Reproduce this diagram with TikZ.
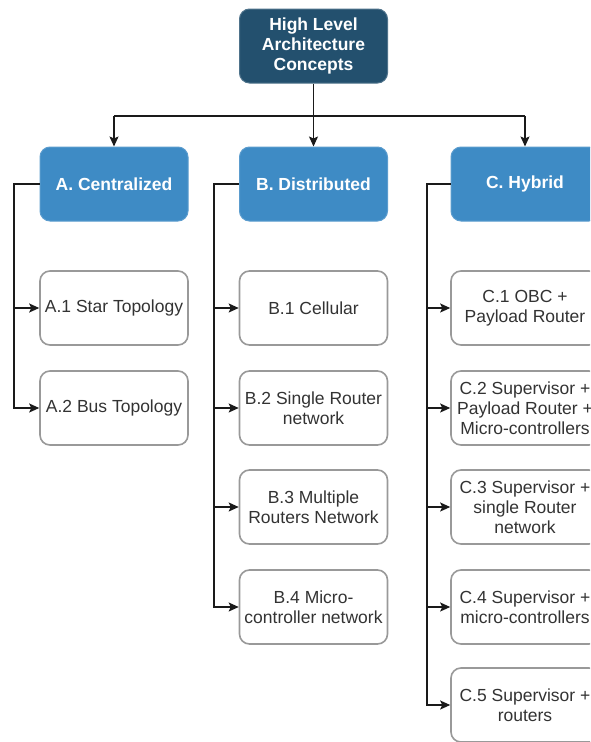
\documentclass[tikz,border=0pt]{standalone}
\usepackage{fontspec}
\setmainfont{Liberation Sans}
\usetikzlibrary{arrows.meta}
\definecolor{rootblue}{HTML}{23506E}
\definecolor{catblue}{HTML}{3E8BC5}
\definecolor{leafline}{HTML}{999999}
\definecolor{txt}{HTML}{333333}
\definecolor{wire}{HTML}{1A1A1A}
\tikzset{
  box/.style={rectangle, rounded corners=10pt, minimum width=148pt, minimum height=74pt,
    align=center, inner sep=2pt, font=\fontsize{17.5pt}{20pt}\selectfont},
  rootbox/.style={box, fill=rootblue, draw=rootblue!80!white, line width=1pt, text=white, font=\fontsize{17.5pt}{20pt}\selectfont\bfseries},
  catbox/.style={box, fill=catblue, draw=catblue!85!white, line width=1pt, text=white, font=\fontsize{17.5pt}{20pt}\selectfont\bfseries},
  leafbox/.style={box, fill=white, draw=leafline, line width=1.6pt, text=txt},
  wireline/.style={draw=wire, line width=1.3pt},
  arrowline/.style={wireline, -{Stealth[length=10pt,width=9pt,inset=2pt]}}
}
\begin{document}
\begin{tikzpicture}[x=1pt, y=-1pt]
  \useasboundingbox (0,0) rectangle (590,742);
  \clip (0,0) rectangle (590,742);
  \fill[white] (0,0) rectangle (590,742);

  % root and categories
  \node[rootbox] (top) at (313.5,46) {High Level\\Architecture\\Concepts};
  \node[catbox] (a) at (114,184) {A. Centralized};
  \node[catbox] (b) at (313.5,184) {B. Distributed};
  \node[catbox] (c) at (525,184) {C. Hybrid};

  % centralized
  \node[leafbox] (a1) at (114,308) {A.1 Star Topology};
  \node[leafbox] (a2) at (114,408) {A.2 Bus Topology};

  % distributed
  \node[leafbox] (b1) at (313.5,308) {B.1 Cellular};
  \node[leafbox] (b2) at (313.5,408) {B.2 Single Router\\network};
  \node[leafbox] (b3) at (313.5,507) {B.3 Multiple\\Routers Network};
  \node[leafbox] (b4) at (313.5,607) {B.4 Micro-\\controller network};

  % hybrid
  \node[leafbox] (c1) at (525,308) {C.1 OBC +\\Payload Router};
  \node[leafbox] (c2) at (525,408) {C.2 Supervisor +\\Payload Router +\\Micro-controllers};
  \node[leafbox] (c3) at (525,507) {C.3 Supervisor +\\single Router\\network};
  \node[leafbox] (c4) at (525,607) {C.4 Supervisor +\\micro-controllers};
  \node[leafbox] (c5) at (525,705) {C.5 Supervisor +\\routers};

  % bus from the root to the categories
  \coordinate (bus) at (313.5,116);
  \draw[arrowline] (top.south) -- (b.north);
  \draw[wireline] (bus -| a.north) -- (bus -| c.north);
  \draw[arrowline] (bus -| a.north) -- (a.north);
  \draw[arrowline] (bus -| c.north) -- (c.north);

  % trunks down the left of each column
  \coordinate (ta) at (14,184);
  \coordinate (tb) at (214,184);
  \coordinate (tc) at (427,184);
  \draw[arrowline] (a.west) -- (ta) |- (a1.west);
  \draw[arrowline] (ta) |- (a2.west);
  \draw[arrowline] (b.west) -- (tb) |- (b1.west);
  \draw[arrowline] (tb) |- (b2.west);
  \draw[arrowline] (tb) |- (b3.west);
  \draw[arrowline] (tb) |- (b4.west);
  \draw[arrowline] (c.west) -- (tc) |- (c1.west);
  \draw[arrowline] (tc) |- (c2.west);
  \draw[arrowline] (tc) |- (c3.west);
  \draw[arrowline] (tc) |- (c4.west);
  \draw[arrowline] (tc) |- (c5.west);
\end{tikzpicture}
\end{document}
